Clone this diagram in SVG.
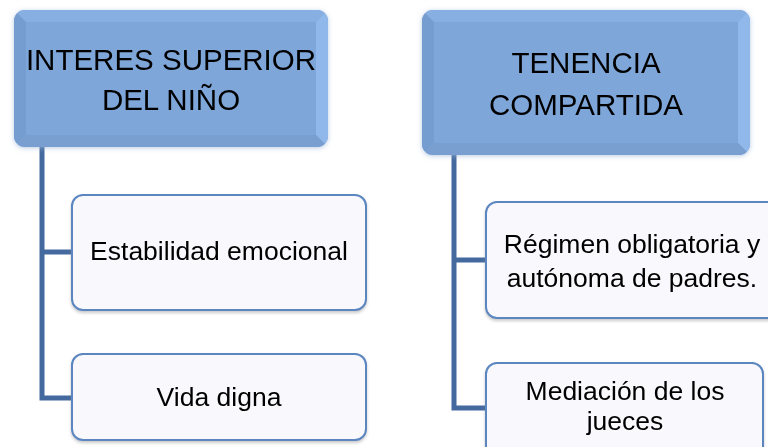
<svg xmlns="http://www.w3.org/2000/svg" width="768" height="447" viewBox="0 0 768 447">
<defs>
<style>
.hdr{font-family:"Liberation Sans",Arial,sans-serif;font-size:29.5px;fill:#000;text-anchor:middle}
.sub{font-family:"Liberation Sans",Arial,sans-serif;font-size:26.5px;fill:#000;text-anchor:middle}
.child{fill:#f8f8fd;stroke:#5b86c0;stroke-width:2}
.conn{fill:none;stroke:#44699e;stroke-width:5;stroke-linejoin:miter}
.base{fill:#7fa6d8}
.bt{fill:#88afe1}
.br{fill:#91b8ea}
.bl{fill:#769dcf}
.bb{fill:#799fd1}
</style>
<filter id="glow" x="-10%" y="-10%" width="120%" height="120%">
<feGaussianBlur in="SourceAlpha" stdDeviation="2.5"/>
<feOffset dx="0" dy="1" result="b"/>
<feFlood flood-color="#9db7d9" flood-opacity="0.7"/>
<feComposite in2="b" operator="in"/>
<feMerge><feMergeNode/><feMergeNode in="SourceGraphic"/></feMerge>
</filter>
<filter id="sh" x="-5%" y="-5%" width="110%" height="115%">
<feGaussianBlur in="SourceAlpha" stdDeviation="1.5"/>
<feOffset dx="0" dy="2" result="b"/>
<feFlood flood-color="#888" flood-opacity="0.45"/>
<feComposite in2="b" operator="in"/>
<feMerge><feMergeNode/><feMergeNode in="SourceGraphic"/></feMerge>
</filter>
<clipPath id="c1"><rect x="14" y="10" width="314" height="137" rx="11"/></clipPath>
<clipPath id="c2"><rect x="422" y="10" width="328" height="145" rx="11"/></clipPath>
</defs>

<g id="connectors">
<path class="conn" d="M42 147 V398 H72 M42 252 H72"/>
<path class="conn" d="M454 155 V408 H486 M454 260 H486"/>
</g>

<g id="node-interes" filter="url(#glow)">
<g clip-path="url(#c1)">
<rect class="base" x="14" y="10" width="314" height="137"/>
<polygon class="bt" points="14,10 328,10 316,22 26,22"/>
<polygon class="br" points="328,10 328,147 316,135 316,22"/>
<polygon class="bl" points="14,10 26,22 26,135 14,147"/>
<polygon class="bb" points="14,147 26,135 316,135 328,147"/>
</g>
<text class="hdr" x="171" y="70">INTERES SUPERIOR</text>
<text class="hdr" x="171" y="110">DEL NIÑO</text>
</g>

<g id="node-tenencia" filter="url(#glow)">
<g clip-path="url(#c2)">
<rect class="base" x="422" y="10" width="328" height="145"/>
<polygon class="bt" points="422,10 750,10 738,22 434,22"/>
<polygon class="br" points="750,10 750,155 738,143 738,22"/>
<polygon class="bl" points="422,10 434,22 434,143 422,155"/>
<polygon class="bb" points="422,155 434,143 738,143 750,155"/>
</g>
<text class="hdr" x="586" y="73">TENENCIA</text>
<text class="hdr" x="586" y="115">COMPARTIDA</text>
</g>

<g id="node-estabilidad" filter="url(#sh)">
<rect class="child" x="72" y="195" width="294" height="115" rx="11"/>
<text class="sub" x="219" y="260">Estabilidad emocional</text>
</g>

<g id="node-vida" filter="url(#sh)">
<rect class="child" x="72" y="354" width="294" height="86" rx="11"/>
<text class="sub" x="219" y="406">Vida digna</text>
</g>

<g id="node-regimen" filter="url(#sh)">
<rect class="child" x="486" y="202" width="300" height="116" rx="11"/>
<text class="sub" x="632" y="253">Régimen obligatoria y</text>
<text class="sub" x="632" y="287">autónoma de padres.</text>
</g>

<g id="node-mediacion" filter="url(#sh)">
<rect class="child" x="486" y="363" width="277" height="100" rx="11"/>
<text class="sub" x="625" y="400">Mediación de los</text>
<text class="sub" x="625" y="430">jueces</text>
</g>
</svg>
